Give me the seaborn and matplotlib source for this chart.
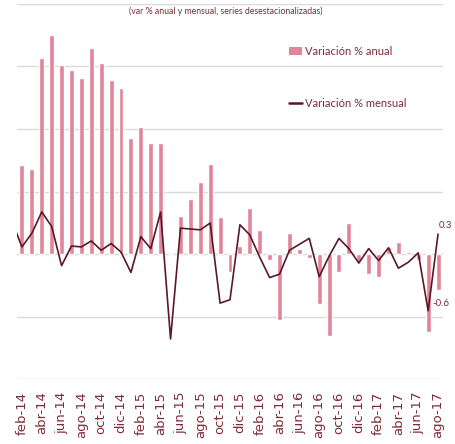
import numpy as np
import seaborn as sns
import matplotlib.pyplot as plt
from matplotlib.patches import Patch
from matplotlib.lines import Line2D

# months shown (feb-14 .. ago-17)
meses = ["feb-14", "mar-14", "abr-14", "may-14", "jun-14", "jul-14", "ago-14", "sep-14",
         "oct-14", "nov-14", "dic-14", "ene-15", "feb-15", "mar-15", "abr-15", "may-15",
         "jun-15", "jul-15", "ago-15", "sep-15", "oct-15", "nov-15", "dic-15", "ene-16",
         "feb-16", "mar-16", "abr-16", "may-16", "jun-16", "jul-16", "ago-16", "sep-16",
         "oct-16", "nov-16", "dic-16", "ene-17", "feb-17", "mar-17", "abr-17", "may-17",
         "jun-17", "jul-17", "ago-17"]

# annual variation (bars, left axis)
var_anual = [2.85, 2.72, 6.26, 7.02, 6.05, 5.89, 5.62, 6.60, 6.11, 5.57, 5.31, 3.72,
             4.05, 3.54, 3.55, 0.0, 1.23, 1.77, 2.31, 2.87, 1.19, -0.59, 0.27, 1.47,
             0.77, -0.18, -2.12, 0.68, 0.17, -0.12, -1.61, -2.61, -0.57, 0.98, -0.25,
             -0.63, -0.73, 0.23, 0.39, 0.07, -0.20, -2.50, -1.14]

# monthly variation (line, right axis); first value is ene-14, clipped at the left edge
var_mensual_previo = 0.45
var_mensual = [0.15, 0.31, 0.56, 0.39, -0.07, 0.16, 0.15, 0.22, 0.11, 0.19, 0.09, -0.15,
               0.27, 0.13, 0.56, -0.93, 0.37, 0.36, 0.35, 0.43, -0.51, -0.47, 0.41, 0.29,
               0.03, -0.21, -0.17, 0.11, 0.18, 0.25, -0.20, 0.04, 0.25, 0.13, -0.04, 0.13,
               -0.01, 0.14, -0.10, -0.03, 0.08, -0.60, 0.30]

subtitulo = "(var % anual y mensual, series desestacionalizadas)"
rosa = "#E0859A"
granate = "#5A1828"
texto = "#7E2B38"

sns.set_style("white")
plt.rcParams["font.family"] = ["Lato", "DejaVu Sans"]

fig = plt.figure(figsize=(4.56, 4.44), dpi=100)
ax = fig.add_axes([17 / 456, 1 - 379 / 444, 426 / 456, 375 / 444])

sns.barplot(x=meses, y=var_anual, ax=ax, color=rosa, width=0.5, saturation=1, zorder=2)
ax.set_xlim(-0.5, len(meses) - 0.5)
ax.set_ylim(-4, 8)
ax.set_yticks(np.arange(-4, 9, 2))
ax.set_yticklabels([])
ax.set_axisbelow(True)
ax.yaxis.grid(True, color="#DADADA", linewidth=1)
ax.xaxis.grid(False)
for s in ax.spines.values():
    s.set_visible(False)
ax.set_xticks(range(0, len(meses), 2))
ax.set_xticklabels(meses[::2], rotation=90, family="DejaVu Sans", fontsize=9.5, color=texto)
ax.tick_params(axis="x", length=0, pad=9)
ax.tick_params(axis="y", length=0)
ax.set_xlabel("")
ax.set_ylabel("")

ax2 = ax.twinx()
xs = np.arange(-1, len(meses))
sns.lineplot(x=xs, y=[var_mensual_previo] + var_mensual, ax=ax2, color=granate, linewidth=1.2)
ax2.set_ylim(-1.4, 3.0)
ax2.set_xlim(-0.5, len(meses) - 0.5)
ax2.set_yticks([])
for s in ax2.spines.values():
    s.set_visible(False)

ax2.annotate("0.3", (len(meses) - 1, var_mensual[-1]), xytext=(0.5, 6), textcoords="offset points",
             ha="left", va="center", fontsize=7, color=texto, annotation_clip=False)
ax2.annotate("-0.6", (len(meses) - 2, var_mensual[-2]), xytext=(3, 5.5), textcoords="offset points",
             ha="left", va="center", fontsize=7, color=texto, annotation_clip=False)

fig.text(226 / 456, 1 - 11 / 444, subtitulo, ha="center", va="center", fontsize=6.3, color=texto)

handles = [Patch(facecolor=rosa, edgecolor="none"), Line2D([], [], color=granate, linewidth=1.8)]
ax2.legend(handles, ["Variación % anual", "Variación % mensual"], loc="upper left",
           bbox_to_anchor=((289 - 17) / 426, 1 - (46 - 4) / 375), frameon=False,
           fontsize=8, labelcolor=texto, handlelength=1.2, handleheight=0.8,
           handletextpad=0.2, labelspacing=3.7, borderpad=0, borderaxespad=0)

fig.savefig("out.png", dpi=100)
